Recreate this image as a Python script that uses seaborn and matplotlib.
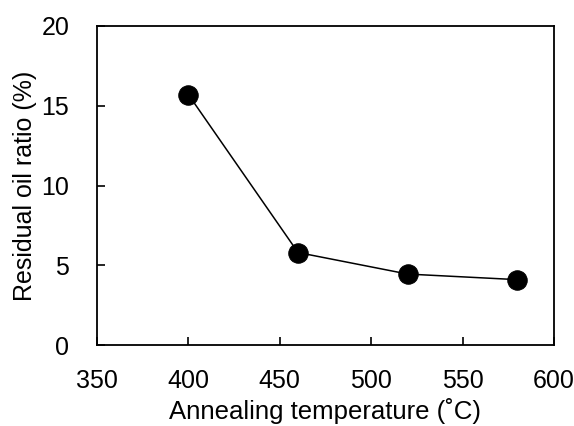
import matplotlib
matplotlib.use('Agg')
import matplotlib.pyplot as plt
import seaborn as sns
import pandas as pd

# values
temperature = [400, 460, 520, 580]
residual_oil = [15.7, 5.8, 4.45, 4.1]

df = pd.DataFrame({'temperature': temperature, 'residual_oil': residual_oil})

sns.set_style('ticks')
plt.rcParams['font.family'] = ['Liberation Sans', 'DejaVu Sans']
plt.rcParams['text.color'] = 'black'
plt.rcParams['axes.labelcolor'] = 'black'
plt.rcParams['xtick.color'] = 'black'
plt.rcParams['ytick.color'] = 'black'

fig = plt.figure(figsize=(5.74, 4.26), dpi=100)
ax = fig.add_axes([0.169, 0.190, 0.796, 0.749])

sns.lineplot(data=df, x='temperature', y='residual_oil', ax=ax,
             color='black', linewidth=1.1, marker='o', markersize=14,
             markeredgecolor='black', markerfacecolor='black')

ax.set_xlim(350, 600)
ax.set_ylim(0, 20)
ax.set_xticks([350, 400, 450, 500, 550, 600])
ax.set_yticks([0, 5, 10, 15, 20])
ax.tick_params(direction='in', length=6, width=1.2, labelsize=18)
ax.tick_params(axis='x', pad=17)
ax.tick_params(axis='y', pad=20)
for s in ax.spines.values():
    s.set_linewidth(1.3)
    s.set_color('black')

ax.set_xlabel('Annealing temperature (˚C)', fontsize=18.5, labelpad=4)
ax.set_ylabel('Residual oil ratio (%)', fontsize=18, labelpad=3)

fig.savefig('out.png', dpi=100)
